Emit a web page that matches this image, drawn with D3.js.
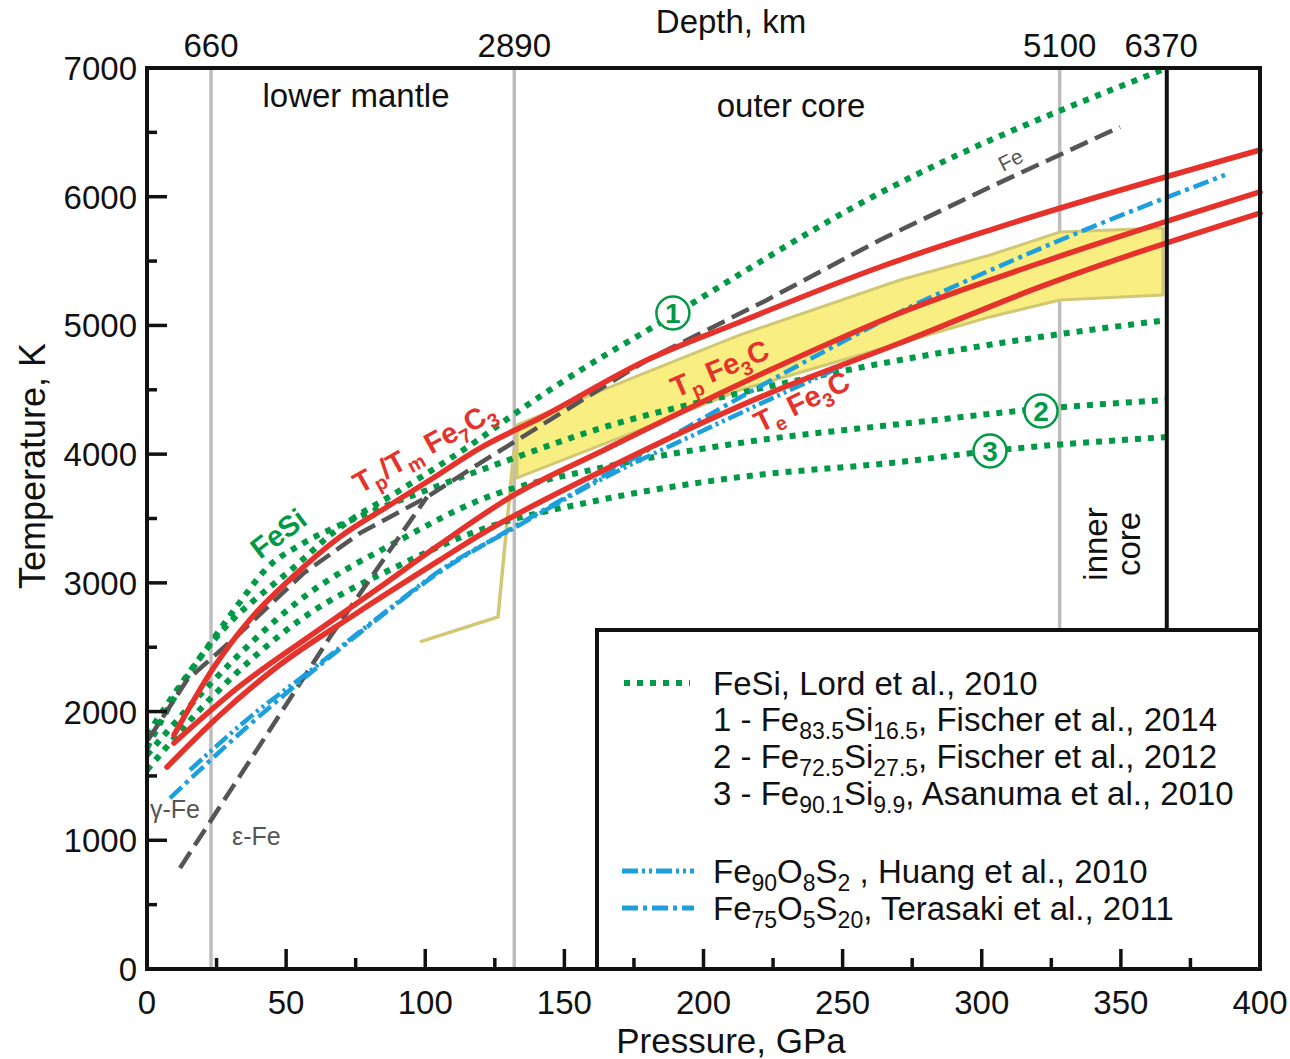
<!DOCTYPE html>
<html>
<head>
<meta charset="utf-8">
<script src="https://cdn.jsdelivr.net/npm/d3@7"></script>
<style>
  html, body { margin: 0; padding: 0; background: #fff; }
  svg { display: block; font-family: "Liberation Sans", Arial, sans-serif; }
</style>
</head>
<body>
<svg id="chart" width="1290" height="1059"></svg>
<script>
// ---- data: melting curves, [pressure GPa, temperature K] ----
const fe7c3Tp = [[9.7,1818],[24.08,2346],[37.02,2716],[51.39,3027],[69.36,3357],[87.33,3605],[101.71,3799],[119.68,4047],[141.24,4281],[179.7,4731],[213.12,5027],[263.43,5454],[302.96,5741],[400,6363]];
const fe3cTp = [[9.7,1756],[33.42,2199],[57.5,2572],[81.22,2929],[105.3,3300],[131.9,3683],[162.8,4017],[223.9,4654],[270.62,5097],[320.93,5485],[400,6037]];
const fe3cTe = [[7.19,1569],[26.24,1973],[45.28,2323],[75.47,2766],[105.3,3178],[119.68,3372],[162.8,3861],[223.9,4475],[270.62,4863],[320.93,5299],[400,5873]];

const terasaki = [[8.27,1328],[35.94,1880],[60.02,2323],[83.74,2735],[107.82,3123],[119.68,3279],[162.8,3815],[198.74,4265],[244.38,4809],[270.62,5104],[317.34,5563],[387.42,6169]];
const huang = [[15.45,1546],[37.02,1957],[60.02,2339],[83.74,2743],[107.82,3131],[131.9,3426],[162.8,3799],[198.74,4172],[231.08,4498],[256.96,4754]];

const feGamma = [[0.36,1779],[14.38,2245],[33.42,2610],[56.42,3077],[76.55,3387],[100.63,3667],[119.68,3931],[179.7,4731],[222.82,5198],[263.43,5664],[302.96,6075],[349.69,6542]];
const feEpsilon = [[11.86,785],[40.61,1740],[65.77,2579],[89.85,3333],[100.63,3667]];

const feSiLord = [[0,1717],[11.86,2183],[24.08,2572],[33.42,2851],[43.13,3116],[54.99,3294],[71.88,3473],[101.71,3730],[129.38,3950],[162.8,4200],[213.12,4475],[270.62,4731],[320.93,4910],[366.58,5042]];
const feSi1 = [[0,1818],[24.08,2556],[54.99,3162],[67.21,3395],[90.93,3720],[105.3,3915],[118.6,4105],[131.9,4310],[155.62,4650],[181.85,4988],[263.43,6029],[366.58,7000]];
const feSi2 = [[0,1663],[24.08,2245],[54.99,2867],[90.93,3333],[119.68,3644],[162.8,3892],[213.12,4087],[270.62,4234],[320.93,4351],[366.58,4421]];
const feSi3 = [[0,1546],[24.08,2129],[54.99,2711],[90.93,3139],[119.68,3411],[162.8,3644],[213.12,3822],[270.62,3939],[302.96,4024],[366.58,4133]];

// Fe3C band: upper edge then lower edge (reversed), plus the low-pressure tail
const bandUpper = [[132.97,4227],[177.18,4615],[213.12,4926],[270.62,5353],[302.96,5547],[328.12,5726],[365.14,5757]];
const bandLower = [[365.14,5237],[328.12,5198],[302.96,5066],[213.12,4498],[177.18,4188],[132.97,3815]];
const bandTail = [[98.11,2541],[126.15,2735],[131.9,4032]];

// axes
const pressureTicks = [0,50,100,150,200,250,300,350,400];
const pressureMinor = [25,75,125,175,225,275,325,375];
const tempTicks = [0,1000,2000,3000,4000,5000,6000,7000];
const tempMinor = [500,1500,2500,3500,4500,5500,6500];
const depthLabels = ["660","2890","5100","6370"];
const depthLabelP = [23,132,328,364.5];
const boundaryP = [23,132,328];
const centreP = 366.5;

// circled curve numbers: [label, P, T]
const curveNumbers = [["1",189.0,5097],["2",321.3,4335],["3",302.96,4024]];

// ---- drawing ----
const svg = d3.select("#chart");
const x = d3.scaleLinear().domain([0,400]).range([147,1260]);
const y = d3.scaleLinear().domain([0,7000]).range([969,68]);
const line = d3.line().x(d => x(d[0])).y(d => y(d[1])).curve(d3.curveMonotoneX);
const lin = d3.line().x(d => x(d[0])).y(d => y(d[1]));

const RED = "#e5322b", GREEN = "#009a46", BLUE = "#1c9fdc", GREY = "#555555";

// layer boundaries
svg.selectAll(".bnd").data(boundaryP).join("line")
  .attr("x1", d => x(d)).attr("x2", d => x(d))
  .attr("y1", y(7000)).attr("y2", y(0))
  .attr("stroke", "#bdbdbd").attr("stroke-width", 3.5);

// Fe3C band
svg.append("path").datum(bandUpper.concat(bandLower))
  .attr("d", d => lin(d) + "Z")
  .attr("fill", "#f8ee82").attr("stroke", "#d2c874").attr("stroke-width", 3).attr("stroke-linejoin","round");
svg.append("path").datum(bandTail).attr("d", lin)
  .attr("fill", "none").attr("stroke", "#d2c874").attr("stroke-width", 3.5);

// Fe-Si curves
[feSiLord, feSi1, feSi2, feSi3].forEach(c => {
  svg.append("path").datum(c).attr("d", line)
    .attr("fill","none").attr("stroke",GREEN).attr("stroke-width",6).attr("stroke-dasharray","6,7");
});

// pure Fe
[feGamma, feEpsilon].forEach(c => {
  svg.append("path").datum(c).attr("d", lin)
    .attr("fill","none").attr("stroke",GREY).attr("stroke-width",4.5).attr("stroke-dasharray","19,8");
});

// Fe-O-S
svg.append("path").datum(huang).attr("d", line)
  .attr("fill","none").attr("stroke",BLUE).attr("stroke-width",4.5).attr("stroke-dasharray","16,4,3,4,3,4");
svg.append("path").datum(terasaki).attr("d", line)
  .attr("fill","none").attr("stroke",BLUE).attr("stroke-width",4.5).attr("stroke-dasharray","16,5,4,5");

// carbides
[fe7c3Tp, fe3cTp, fe3cTe].forEach(c => {
  svg.append("path").datum(c).attr("d", line)
    .attr("fill","none").attr("stroke",RED).attr("stroke-width",5.5).attr("stroke-linecap","round");
});

// centre of the Earth
svg.append("line").attr("x1",x(centreP)).attr("x2",x(centreP)).attr("y1",y(7000)).attr("y2",630)
  .attr("stroke","#111").attr("stroke-width",4);

// legend box
svg.append("rect").attr("x",597).attr("y",630).attr("width",663).attr("height",339)
  .attr("fill","#fff").attr("stroke","#111").attr("stroke-width",4);

// ticks (inside)
const tickG = svg.append("g").attr("stroke","#111").attr("stroke-width",3.5);
pressureTicks.slice(1,-1).forEach(p => tickG.append("line").attr("x1",x(p)).attr("x2",x(p)).attr("y1",y(0)).attr("y2",y(0)-20));
pressureMinor.forEach(p => tickG.append("line").attr("x1",x(p)).attr("x2",x(p)).attr("y1",y(0)).attr("y2",y(0)-11));
tempTicks.slice(1,-1).forEach(t => tickG.append("line").attr("x1",x(0)).attr("x2",x(0)+20).attr("y1",y(t)).attr("y2",y(t)));
tempMinor.forEach(t => tickG.append("line").attr("x1",x(0)).attr("x2",x(0)+10).attr("y1",y(t)).attr("y2",y(t)));

// plot frame
svg.append("rect").attr("x",147).attr("y",68).attr("width",1113).attr("height",901)
  .attr("fill","none").attr("stroke","#111").attr("stroke-width",4);

// tick labels
const FS = 33;
svg.selectAll(".xl").data(pressureTicks).join("text")
  .attr("x", d => x(d)).attr("y", 1014).attr("text-anchor","middle")
  .attr("font-size",FS).attr("fill","#111").text(d => d);
svg.selectAll(".yl").data(tempTicks).join("text")
  .attr("x", 137).attr("y", d => y(d) + 12).attr("text-anchor","end")
  .attr("font-size",FS).attr("fill","#111").text(d => d);
svg.selectAll(".dl").data(depthLabels).join("text")
  .attr("x", (d,i) => x(depthLabelP[i])).attr("y", 57).attr("text-anchor","middle")
  .attr("font-size",FS).attr("fill","#111").text(d => d);

// axis titles
svg.append("text").attr("x",731).attr("y",33).attr("text-anchor","middle").attr("font-size",FS).attr("fill","#111").text("Depth, km");
svg.append("text").attr("x",731).attr("y",1053).attr("text-anchor","middle").attr("font-size",35).attr("fill","#111").text("Pressure, GPa");
svg.append("text").attr("transform","translate(45,466) rotate(-90)").attr("text-anchor","middle").attr("font-size",36).attr("fill","#111").text("Temperature, K");

// region names
svg.append("text").attr("x",356).attr("y",107).attr("text-anchor","middle").attr("font-size",FS).attr("fill","#111").text("lower mantle");
svg.append("text").attr("x",791).attr("y",117).attr("text-anchor","middle").attr("font-size",FS).attr("fill","#111").text("outer core");
svg.append("text").attr("transform","translate(1107,544) rotate(-90)").attr("text-anchor","middle").attr("font-size",FS).attr("fill","#111").text("inner");
svg.append("text").attr("transform","translate(1140,544) rotate(-90)").attr("text-anchor","middle").attr("font-size",FS).attr("fill","#111").text("core");

// curve annotations
function annot(px, py, angle, parts, size, color, weight) {
  const g = svg.append("g").attr("transform", `translate(${px},${py}) rotate(${angle})`)
    .attr("fill", color).attr("font-weight", weight || "bold");
  const t = g.append("text").attr("font-size", size);
  parts.forEach(p => {
    const s = t.append("tspan").text(p[0]);
    if (p[1] === "sub") s.attr("font-size", size*0.68).attr("dy", size*0.25);
    else if (p[1] === "base") s.attr("dy", -size*0.25);
  });
}
annot(260, 560, -37, [["FeSi"]], 29, GREEN);
annot(360, 494, -29, [["T"],["p","sub"],["/T","base"],["m","sub"],[" Fe","base"],["7","sub"],["C","base"],["3","sub"]], 29, RED);
annot(676, 398, -23, [["T"],["p","sub"],[" Fe","base"],["3","sub"],["C","base"]], 29, RED);
annot(760, 433, -26, [["T"],["e","sub"],[" Fe","base"],["3","sub"],["C","base"]], 29, RED);
annot(1003, 172, -27, [["Fe"]], 21, GREY, "normal");
svg.append("text").attr("x",150).attr("y",818).attr("font-size",25).attr("fill",GREY).text("γ-Fe");
svg.append("text").attr("x",232).attr("y",845).attr("font-size",25).attr("fill",GREY).text("ε-Fe");

curveNumbers.forEach(c => {
  const cx = x(c[1]), cy = y(c[2]);
  svg.append("circle").attr("cx",cx).attr("cy",cy).attr("r",16.5).attr("fill","#fff").attr("stroke",GREEN).attr("stroke-width",2.5);
  svg.append("text").attr("x",cx).attr("y",cy+10).attr("text-anchor","middle").attr("font-size",28).attr("font-weight","bold").attr("fill",GREEN).text(c[0]);
});

// legend contents
const LS = 33;
function legendText(tx, ty, parts) {
  const t = svg.append("text").attr("x",tx).attr("y",ty).attr("font-size",LS).attr("fill","#111");
  parts.forEach(p => {
    const s = t.append("tspan").text(p[0]);
    if (p[1] === "sub") s.attr("font-size", 23).attr("dy", 8);
    else if (p[1] === "base") s.attr("dy", -8);
  });
}
svg.append("line").attr("x1",624).attr("x2",690).attr("y1",683).attr("y2",683)
  .attr("stroke",GREEN).attr("stroke-width",6).attr("stroke-dasharray","6,7");
legendText(713,695,[["FeSi, Lord et al., 2010"]]);
legendText(713,731,[["1 - Fe"],["83.5","sub"],["Si","base"],["16.5","sub"],[", Fischer et al., 2014","base"]]);
legendText(713,768,[["2 - Fe"],["72.5","sub"],["Si","base"],["27.5","sub"],[", Fischer et al., 2012","base"]]);
legendText(713,805,[["3 - Fe"],["90.1","sub"],["Si","base"],["9.9","sub"],[", Asanuma et al., 2010","base"]]);
svg.append("line").attr("x1",622).attr("x2",694).attr("y1",871).attr("y2",871)
  .attr("stroke",BLUE).attr("stroke-width",5).attr("stroke-dasharray","16,4,3,4,3,4");
legendText(713,883,[["Fe"],["90","sub"],["O","base"],["8","sub"],["S","base"],["2","sub"],[" , Huang et al., 2010","base"]]);
svg.append("line").attr("x1",622).attr("x2",694).attr("y1",908).attr("y2",908)
  .attr("stroke",BLUE).attr("stroke-width",5).attr("stroke-dasharray","16,5,4,5");
legendText(713,920,[["Fe"],["75","sub"],["O","base"],["5","sub"],["S","base"],["20","sub"],[", Terasaki et al., 2011","base"]]);
</script>
</body>
</html>
